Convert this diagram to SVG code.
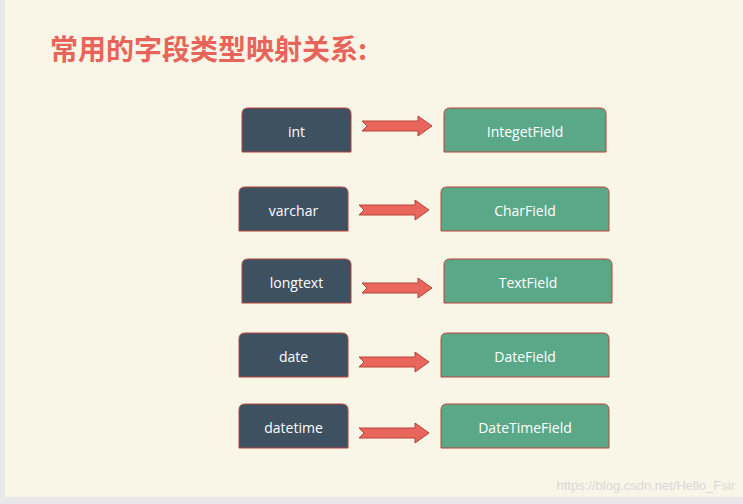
<svg xmlns="http://www.w3.org/2000/svg" width="743" height="504" viewBox="0 0 743 504">
<style>
.l{fill:#3E5160;stroke:#B8433A;stroke-width:1}
.r{fill:#5BA889;stroke:#B8433A;stroke-width:1}
.t{fill:#fff;font-family:"Open Sans","Noto Sans",sans-serif;font-size:14px;text-anchor:middle;dominant-baseline:central}
.a{fill:#E8665C;stroke:#B8433A;stroke-width:1}
</style>
<defs>
<path id="arr" d="M0,-5 H56 V-10 L70,0 L56,10 V5 H0 L5,0 Z"/>
</defs>
<rect width="743" height="504" fill="#E8E8E8"/>
<rect x="5" y="0" width="738" height="497" fill="#F9F5E7"/>
<text x="50" y="60" font-family="'Noto Sans CJK SC',sans-serif" font-weight="bold" font-size="28" fill="#E8645A">常用的字段类型映射关系:</text>
<g id="n1"><path class="l" d="M242,152 V114 Q242,108 248,108 H345 Q351,108 351,114 V152 Z"/><text class="t" x="296.5" y="131">int</text></g>
<g id="n2"><path class="l" d="M239,231 V193 Q239,187 245,187 H342 Q348,187 348,193 V231 Z"/><text class="t" x="293.5" y="210">varchar</text></g>
<g id="n3"><path class="l" d="M242,303 V265 Q242,259 248,259 H345 Q351,259 351,265 V303 Z"/><text class="t" x="296.5" y="282">longtext</text></g>
<g id="n4"><path class="l" d="M239,377 V339 Q239,333 245,333 H342 Q348,333 348,339 V377 Z"/><text class="t" x="293.5" y="356">date</text></g>
<g id="n5"><path class="l" d="M239,448 V410 Q239,404 245,404 H342 Q348,404 348,410 V448 Z"/><text class="t" x="293.5" y="427">datetime</text></g>
<g id="m1"><path class="r" d="M444,152 V114 Q444,108 450,108 H600 Q606,108 606,114 V152 Z"/><text class="t" x="525" y="131">IntegetField</text></g>
<g id="m2"><path class="r" d="M441,231 V193 Q441,187 447,187 H603 Q609,187 609,193 V231 Z"/><text class="t" x="525" y="210">CharField</text></g>
<g id="m3"><path class="r" d="M444,303 V265 Q444,259 450,259 H606 Q612,259 612,265 V303 Z"/><text class="t" x="528" y="282">TextField</text></g>
<g id="m4"><path class="r" d="M441,377 V339 Q441,333 447,333 H603 Q609,333 609,339 V377 Z"/><text class="t" x="525" y="356">DateField</text></g>
<g id="m5"><path class="r" d="M441,448 V410 Q441,404 447,404 H603 Q609,404 609,410 V448 Z"/><text class="t" x="525" y="427">DateTimeField</text></g>
<g id="connectors">
<use href="#arr" class="a" transform="translate(362,126)"/>
<use href="#arr" class="a" transform="translate(359,210)"/>
<use href="#arr" class="a" transform="translate(362,288)"/>
<use href="#arr" class="a" transform="translate(359,362)"/>
<use href="#arr" class="a" transform="translate(359,433)"/>
</g>
<text x="735" y="490" text-anchor="end" font-family="'Liberation Sans',sans-serif" font-size="13" fill="#D8D8D8">https://blog.csdn.net/Hello_Fsir</text>
</svg>
